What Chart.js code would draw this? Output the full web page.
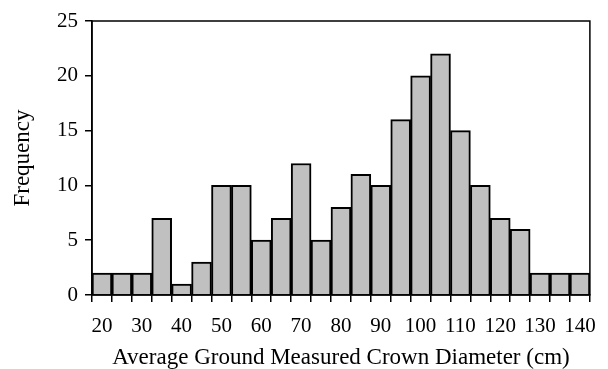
<!DOCTYPE html>
<html>
<head>
<meta charset="utf-8">
<script src="https://cdn.jsdelivr.net/npm/chart.js@4"></script>
<style>
  body { margin: 0; background: #fff; }
  #wrap { width: 608px; height: 369px; }
</style>
</head>
<body>
<div id="wrap"><canvas id="hist"></canvas></div>
<script>
// bin centres (cm) and counts
var binCenters = [20,25,30,35,40,45,50,55,60,65,70,75,80,85,90,95,100,105,110,115,120,125,130,135,140];
var counts = [2,2,2,7,1,3,10,10,5,7,12,5,8,11,10,16,20,22,15,10,7,6,2,2,2];
var yTicks = [0,5,10,15,20,25];

var serif = "'Liberation Serif', 'Times New Roman', serif";

// box round the plot area
var frame = {
    id: "frame",
    afterDraw: function(chart) {
        var a = chart.chartArea, ctx = chart.ctx;
        ctx.save();
        ctx.strokeStyle = "#000";
        ctx.lineWidth = 1.5;
        ctx.strokeRect(a.left, a.top, a.right - a.left, a.bottom - a.top);
        ctx.restore();
    }
};

var config = {
    type: "bar",
    data: {
        labels: binCenters.map(String),
        datasets: [{
            label: "Frequency",
            data: counts,
            backgroundColor: "#c0c0c0",
            borderColor: "#000",
            borderWidth: 2,
            barPercentage: 1,
            categoryPercentage: 1
        }]
    },
    options: {
        responsive: true,
        maintainAspectRatio: false,
        animation: false,
        layout: { padding: { top: 21, right: 16, left: 9, bottom: 0 } },
        plugins: { legend: { display: false }, tooltip: { enabled: false } },
        scales: {
            x: {
                offset: true,
                grid: { display: true, offset: true, drawOnChartArea: false, color: "#000", lineWidth: 1.5, tickLength: 7 },
                border: { color: "#000", width: 1.5 },
                ticks: {
                    autoSkip: false, maxRotation: 0, color: "#000", padding: 12,
                    font: { family: serif, size: 21 },
                    callback: function(v, i) { return i % 2 === 0 ? this.getLabelForValue(v) : ""; }
                },
                title: { display: true, text: "Average Ground Measured Crown Diameter (cm)", color: "#000", font: { family: serif, size: 23 }, padding: { top: 0, bottom: -3 } },
                afterFit: function(s) { s.height = 74; }
            },
            y: {
                min: 0, max: 25,
                afterBuildTicks: function(s) { s.ticks = yTicks.map(function(v) { return { value: v }; }); },
                grid: { display: true, drawOnChartArea: false, color: "#000", lineWidth: 1.5, tickLength: 7 },
                border: { color: "#000", width: 1.5 },
                ticks: { color: "#000", padding: 7, font: { family: serif, size: 21 } },
                title: { display: true, text: "Frequency", color: "#000", font: { family: serif, size: 23 }, padding: { top: 0, bottom: 0 } },
                afterFit: function(s) { s.width = 83; }
            }
        }
    },
    plugins: [frame]
};

var histChart = new Chart(document.getElementById("hist"), config);
</script>
</body>
</html>
